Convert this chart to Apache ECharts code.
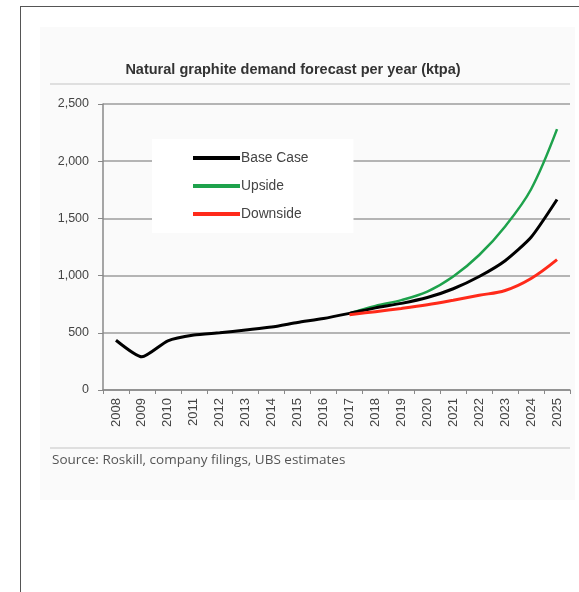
<!DOCTYPE html>
<html>
<head>
<meta charset="utf-8">
<style>
  html, body { margin: 0; padding: 0; background: #ffffff; }
  #frame { position: absolute; left: 20px; top: 6px; width: 580px; height: 600px;
           border-left: 1px solid #555; border-top: 1px solid #555; box-sizing: border-box; }
  #panel { position: absolute; left: 40px; top: 27px; width: 535px; height: 473px; background: #fafafa; }
  #chart { position: absolute; left: 0; top: 0; width: 579px; height: 592px; }
</style>
<script src="https://cdn.jsdelivr.net/npm/echarts@6/dist/echarts.min.js"></script>
</head>
<body>
<div id="frame"></div>
<div id="panel"></div>
<div id="chart"></div>
<script>
// Demand forecast for natural graphite, thousand tonnes per annum
const years = ['2008','2009','2010','2011','2012','2013','2014','2015','2016',
               '2017','2018','2019','2020','2021','2022','2023','2024','2025'];
const baseCase = [435, 290, 430, 480, 500, 525, 550, 590, 625,
                  670, 718, 757, 808, 885, 992, 1130, 1335, 1665];
const upside   = [null, null, null, null, null, null, null, null, null,
                  670, 735, 786, 860, 992, 1180, 1430, 1755, 2280];
const downside = [null, null, null, null, null, null, null, null, null,
                  658, 685, 713, 745, 785, 828, 870, 975, 1140];
const yTicks = { min: 0, max: 2500, step: 500 };

const chart = echarts.init(document.getElementById('chart'), null, { renderer: 'canvas' });

const fmtThousands = v => v.toLocaleString('en-US');

chart.setOption({
  backgroundColor: 'transparent',
  animation: false,
  title: {
    text: 'Natural graphite demand forecast per year (ktpa)',
    left: 288, top: 57, textAlign: 'center',
    textStyle: { fontFamily: 'Liberation Sans', fontSize: 14.5, fontWeight: 'bold', color: '#333' }
  },
  grid: { left: 103, right: 9, top: 104, bottom: 202, containLabel: false },
  legend: {
    left: 152, top: 139,
    orient: 'vertical',
    padding: [12, 45, 12, 41],
    backgroundColor: '#ffffff',
    icon: 'rect', itemWidth: 47, itemHeight: 4, itemGap: 14,
    textStyle: { fontFamily: 'Liberation Sans', fontSize: 13.8, color: '#444', lineHeight: 14, padding: [0, 0, 0, -4] },
    data: ['Base Case', 'Upside', 'Downside']
  },
  xAxis: {
    type: 'category',
    data: years,
    boundaryGap: true,
    axisLine: { lineStyle: { color: '#888', width: 1.5 } },
    axisTick: { show: true, interval: 0, length: 4, lineStyle: { color: '#888' } },
    axisLabel: { interval: 0, rotate: 90, margin: 8, fontFamily: 'Liberation Sans', fontSize: 13, color: '#444' }
  },
  yAxis: {
    type: 'value',
    min: yTicks.min, max: yTicks.max, interval: yTicks.step,
    axisLine: { show: true, lineStyle: { color: '#888', width: 1.5 } },
    axisTick: { show: true, length: 5, lineStyle: { color: '#888' } },
    axisLabel: { margin: 14, fontFamily: 'Liberation Sans', fontSize: 12.5, color: '#444', formatter: fmtThousands },
    splitLine: { show: true, lineStyle: { color: '#b4b4b4', width: 2 } }
  },
  graphic: [
    { type: 'line', shape: { x1: 50, y1: 84, x2: 570, y2: 84 }, style: { stroke: '#d6d6d6', lineWidth: 1.5 } },
    { type: 'line', shape: { x1: 50, y1: 448, x2: 570, y2: 448 }, style: { stroke: '#d6d6d6', lineWidth: 1.5 } },
    { type: 'text', left: 52, top: 453,
      style: { text: 'Source: Roskill, company filings, UBS estimates', font: '13.5px "Open Sans"', fill: '#555' } }
  ],
  series: [
    { name: 'Upside', type: 'line', data: upside, smooth: 0.35, symbol: 'none', z: 3,
      lineStyle: { color: '#1ea24c', width: 2.5 }, itemStyle: { color: '#1ea24c' } },
    { name: 'Base Case', type: 'line', data: baseCase, smooth: 0.2, symbol: 'none', z: 4,
      lineStyle: { color: '#000000', width: 3 }, itemStyle: { color: '#000000' } },
    { name: 'Downside', type: 'line', data: downside, smooth: 0.35, symbol: 'none', z: 5,
      lineStyle: { color: '#ff2a1a', width: 3 }, itemStyle: { color: '#ff2a1a' } }
  ]
});
</script>
</body>
</html>
